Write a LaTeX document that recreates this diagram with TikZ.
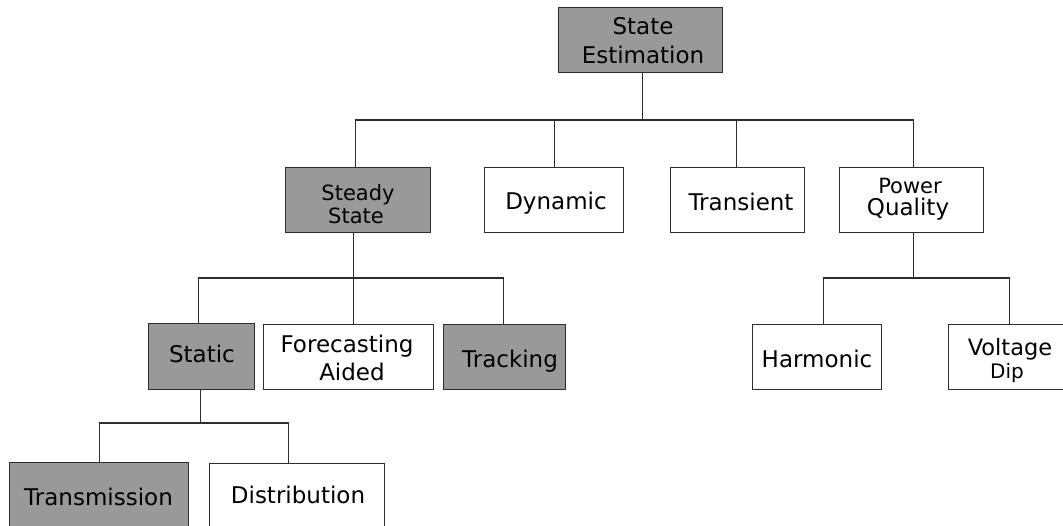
\documentclass[tikz,border=0pt]{standalone}
\usepackage{fontspec}
\setmainfont{DejaVu Sans}
\definecolor{boxgrey}{RGB}{153,153,153}
\definecolor{edgegrey}{RGB}{45,45,45}
\begin{document}
\begin{tikzpicture}[x=1pt,y=-1pt,
  box/.style={draw=edgegrey, line width=1.4pt, inner sep=0pt, anchor=north west, fill=white},
  shaded/.style={box, fill=boxgrey},
  conn/.style={draw=edgegrey, line width=1.3pt},
  txt/.style={anchor=base, inner sep=0pt, text=black, font=\fontsize{23}{28}\selectfont},
  small/.style={txt, font=\fontsize{21}{25}\selectfont},
  smaller/.style={txt, font=\fontsize{20}{24}\selectfont}]

\useasboundingbox (0,0) rectangle (1063,525);
\clip (0,0) rectangle (1063,525);

% ---- level 0
\node[shaded, minimum width=164pt, minimum height=65pt] (se) at (558,7) {};
\node[txt] (se-a) at (643,34) {State};
\node[txt] (se-b) at (643,63) {Estimation};

% ---- level 1
\node[shaded, minimum width=145pt, minimum height=65pt] (ss) at (285,167) {};
\node[small] (ss-a) at (358,200) {Steady};
\node[small] (ss-b) at (356,223) {State};

\node[box, minimum width=139pt, minimum height=65pt] (dyn) at (484,167) {};
\node[txt] (dyn-a) at (556,209) {Dynamic};

\node[box, minimum width=134pt, minimum height=65pt] (tra) at (670,167) {};
\node[txt] (tra-a) at (741,210) {Transient};

\node[box, minimum width=144pt, minimum height=65pt] (pq) at (839,167) {};
\node[small] (pq-a) at (910,193) {Power};
\node[txt] (pq-b) at (908,215) {Quality};

% ---- level 2 (steady state)
\node[shaded, minimum width=106pt, minimum height=66pt] (st) at (148,323) {};
\node[txt] (st-a) at (202,362) {Static};

\node[box, minimum width=170pt, minimum height=65pt] (fa) at (263,324) {};
\node[txt] (fa-a) at (347,352) {Forecasting};
\node[txt] (fa-b) at (352,380) {Aided};

\node[shaded, minimum width=122pt, minimum height=65pt] (trk) at (443,324) {};
\node[txt] (trk-a) at (510,367) {Tracking};

% ---- level 2 (power quality)
\node[box, minimum width=129pt, minimum height=65pt] (har) at (752,324) {};
\node[txt] (har-a) at (817,367) {Harmonic};

\node[box, minimum width=124pt, minimum height=65pt] (vd) at (948,324) {};
\node[txt, font=\fontsize{22.5}{27}\selectfont] (vd-a) at (1010,355) {Voltage};
\node[smaller] (vd-b) at (1007,378) {Dip};

% ---- level 3 (static)
\node[shaded, minimum width=179pt, minimum height=90pt] (trm) at (9,462) {};
\node[txt] (trm-a) at (98.5,505) {Transmission};

\node[box, minimum width=175pt, minimum height=90pt] (dis) at (209,463) {};
\node[txt] (dis-a) at (298,503) {Distribution};

% ---- bus rows
\coordinate (bus1) at (0,120);
\coordinate (bus2) at (0,278);
\coordinate (bus3) at (0,423);

\draw[conn] ([xshift=2pt]se.south) -- ([xshift=2pt]se.south |- bus1) -| ([xshift=-2.5pt]ss.north);
\draw[conn] ([xshift=2pt]se.south |- bus1) -| (dyn.north);
\draw[conn] ([xshift=2pt]se.south |- bus1) -| ([xshift=-1pt]tra.north);
\draw[conn] ([xshift=2pt]se.south |- bus1) -| ([xshift=2pt]pq.north);

\draw[conn] ([xshift=-4.5pt]ss.south) -- ([xshift=-4.5pt]ss.south |- bus2) -| ([xshift=-3pt]st.north);
\draw[conn] ([xshift=-4.5pt]ss.south |- bus2) -| ([xshift=5pt]fa.north);
\draw[conn] ([xshift=-4.5pt]ss.south |- bus2) -| ([xshift=-1pt]trk.north);

\draw[conn] ([xshift=-1pt]st.south) -- ([xshift=-1pt]st.south |- bus3) -| (trm.north);
\draw[conn] ([xshift=-1pt]st.south |- bus3) -| ([xshift=-9pt]dis.north);

\draw[conn] ([xshift=2pt]pq.south) -- ([xshift=2pt]pq.south |- bus2) -| ([xshift=6.5pt]har.north);
\draw[conn] ([xshift=2pt]pq.south |- bus2) -| ([xshift=-1pt]vd.north);

\end{tikzpicture}
\end{document}
